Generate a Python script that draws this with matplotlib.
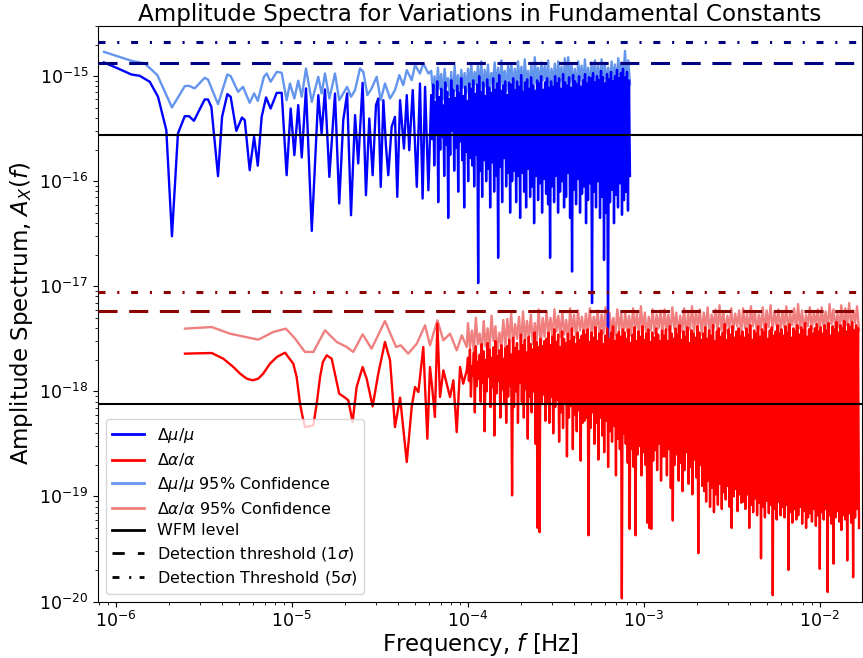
import numpy as np
import matplotlib
matplotlib.use("Agg")
import matplotlib.pyplot as plt
from matplotlib.lines import Line2D

plt.rcParams['lines.scale_dashes'] = False

# ---------------- data (log10 values) ----------------
# Delta mu / mu : low-frequency part (log10 f [Hz], log10 amplitude)
mu_logf = [-6.068, -5.989, -5.913, -5.865, -5.808, -5.761, -5.714, -5.682, -5.648, -5.609,
           -5.585, -5.557, -5.496, -5.477, -5.458, -5.420, -5.397, -5.367, -5.348, -5.316,
           -5.284, -5.268, -5.240, -5.215, -5.194, -5.172, -5.147, -5.121, -5.086, -5.058,
           -5.030, -5.007, -4.986, -4.964, -4.944, -4.920, -4.887, -4.850, -4.831, -4.812,
           -4.787, -4.755, -4.731, -4.708, -4.686, -4.664, -4.641, -4.623, -4.598, -4.579,
           -4.560, -4.541, -4.522, -4.509, -4.495, -4.480, -4.465, -4.452, -4.433, -4.414,
           -4.401, -4.385, -4.363, -4.347, -4.333, -4.313, -4.290, -4.272, -4.257, -4.243,
           -4.224]
mu_logA = [-14.870, -14.927, -14.984, -14.997, -15.054, -15.197, -15.514, -16.524, -15.546, -15.381,
           -15.381, -15.425, -15.222, -15.222, -15.292, -15.952, -15.387, -15.171, -15.197, -15.521,
           -15.394, -15.419, -15.895, -15.578, -15.852, -15.387, -15.203, -15.308, -15.159, -15.159,
           -15.943, -15.308, -15.752, -15.276, -15.774, -15.117, -16.473, -15.181, -15.546, -15.127,
           -15.959, -15.165, -16.212, -15.419, -15.165, -16.324, -15.371, -15.831, -15.064, -16.133,
           -15.403, -15.943, -15.276, -15.213, -16.054, -15.229, -15.673, -15.943, -15.483, -15.387,
           -16.149, -15.229, -15.689, -15.181, -15.705, -15.133, -16.054, -15.070, -16.165, -15.102,
           -16.086]
# Delta mu / mu : dense high-frequency part (alternating peaks and dips)
mu_dense_logf_range = (-4.208, -3.078)
mu_dense_peaks = [-15.18, -15.08, -15.25, -15.05, -15.20, -15.12, -15.28, -15.06, -15.15, -15.22,
                  -15.04, -15.13, -15.21, -15.09, -15.16, -15.02, -15.19, -15.10, -15.24, -15.07,
                  -15.12, -15.04, -15.17, -15.08, -15.00, -15.15, -15.06, -15.19, -15.03, -15.11,
                  -15.16, -15.02, -15.13, -15.07, -14.99, -15.14, -15.09, -15.05, -15.18, -15.06,
                  -15.08, -15.02, -15.13, -15.05, -15.10, -14.99, -15.15, -15.06, -15.03, -15.12,
                  -15.01, -15.09, -15.14, -15.04, -15.07, -15.00, -15.13, -15.06, -15.02, -15.11,
                  -15.05, -15.10, -15.00, -15.07, -15.02, -15.12, -14.98, -15.06, -15.09, -15.01,
                  -15.11, -14.99, -15.05, -15.08, -15.00, -15.10, -15.04, -14.98, -15.07, -15.01,
                  -15.02, -14.97, -15.06, -15.00, -15.04, -14.95, -15.01, -15.07, -14.98, -15.03,
                  -14.96, -15.05, -15.00, -14.94, -15.02, -14.97, -14.93, -15.01, -14.96, -15.04]
mu_dense_dips = [-15.60, -15.85, -15.55, -16.20, -15.70, -15.58, -15.95, -15.65, -16.35, -15.75,
                 -15.52, -15.90, -15.68, -16.10, -15.62, -15.80, -16.25, -15.72, -16.00, -15.78,
                 -15.85, -16.05, -15.75, -16.97, -15.90, -16.15, -15.80, -16.00, -15.88, -16.25,
                 -15.82, -16.10, -15.95, -16.73, -15.86, -16.20, -15.78, -16.05, -15.92, -16.30,
                 -16.00, -15.90, -16.20, -15.95, -16.35, -15.92, -16.10, -16.25, -15.88, -16.15,
                 -16.05, -16.40, -15.95, -16.18, -16.02, -16.30, -15.98, -16.12, -16.22, -16.73,
                 -16.05, -16.20, -15.95, -16.30, -16.10, -16.00, -16.25, -16.15, -15.92, -16.35,
                 -16.86, -16.08, -16.22, -15.98, -16.30, -16.12, -16.05, -16.40, -16.18, -16.02,
                 -17.16, -16.10, -16.25, -16.00, -16.35, -16.15, -16.75, -16.30, -17.59, -16.20,
                 -16.08, -16.40, -16.13, -16.25, -16.02, -16.32, -16.18, -16.10, -16.28, -15.95]

# Delta mu / mu 95% confidence
muc_logf = [-6.068, -5.913, -5.837, -5.765, -5.682, -5.609, -5.585, -5.553, -5.496, -5.477,
            -5.420, -5.367, -5.348, -5.306, -5.278, -5.240, -5.215, -5.194, -5.159, -5.143,
            -5.121, -5.086, -5.058, -5.030, -5.011, -4.986, -4.964, -4.944, -4.920, -4.887,
            -4.850, -4.831, -4.812, -4.787, -4.755, -4.731, -4.686, -4.664, -4.641, -4.613,
            -4.594, -4.571, -4.547, -4.518, -4.495, -4.471, -4.442, -4.414, -4.389, -4.367,
            -4.347, -4.319, -4.300, -4.272, -4.253, -4.224]
muc_logA = [-14.769, -14.854, -14.879, -14.990, -15.298, -15.095, -15.092, -15.117, -15.016, -15.032,
            -15.267, -14.984, -15.000, -15.149, -15.102, -15.254, -15.165, -15.235, -15.006, -14.975,
            -15.054, -14.959, -14.968, -15.229, -15.070, -15.213, -15.044, -15.197, -14.927, -15.245,
            -15.006, -15.165, -14.975, -15.213, -14.975, -15.229, -15.102, -15.197, -15.133, -14.927,
            -14.959, -15.181, -15.117, -15.006, -15.229, -15.070, -15.213, -15.133, -14.990, -15.086,
            -14.943, -15.038, -14.895, -14.975, -14.879, -14.975]
muc_dense_peaks = [-14.95, -15.00, -14.92, -14.98, -14.93, -15.02, -14.96, -14.90, -14.99, -14.94, -14.97,
                   -14.93, -14.88, -14.96, -14.90, -14.86, -14.94, -14.89, -14.97, -14.87, -14.92,
                   -14.85, -14.95, -14.90, -14.88, -14.93, -14.86, -14.91, -14.84, -14.95, -14.89,
                   -14.82, -14.92, -14.87, -14.90, -14.85, -14.93, -14.88, -14.86, -14.91, -14.83,
                   -14.82, -14.89, -14.93, -14.86, -14.90, -14.84, -14.92, -14.87, -14.85, -14.90,
                   -14.84, -14.88, -14.92, -14.86, -14.89, -14.83, -14.87, -14.76, -14.85]
muc_dense_dips = [-15.15, -15.20, -15.12, -15.22, -15.10, -15.18, -15.25, -15.14, -15.19, -15.11, -15.16,
                  -15.12, -15.18, -15.08, -15.15, -15.20, -15.10, -15.16, -15.07, -15.13, -15.19,
                  -15.09, -15.14, -15.05, -15.17, -15.11, -15.08, -15.15, -15.06, -15.12, -15.18,
                  -15.07, -15.13, -15.04, -15.10, -15.16, -15.08, -15.12, -15.05, -15.14, -15.09,
                  -15.06, -15.11, -15.15, -15.04, -15.10, -15.07, -15.13, -15.05, -15.09, -15.12,
                  -15.03, -15.08, -15.11, -15.05, -15.09, -15.02, -15.06, -15.04, -15.08]

# Delta alpha / alpha : low-frequency part
al_logf = [-5.608, -5.456, -5.390, -5.333, -5.295, -5.257, -5.223, -5.191, -5.163, -5.125,
           -5.086, -5.039, -4.992, -4.973, -4.954, -4.939, -4.926, -4.878, -4.859, -4.840,
           -4.824, -4.802, -4.774, -4.731, -4.698, -4.679, -4.655, -4.632, -4.598, -4.575,
           -4.541, -4.509, -4.471, -4.442, -4.414, -4.385, -4.347, -4.319, -4.300, -4.281,
           -4.253, -4.230, -4.215, -4.200, -4.187, -4.173, -4.158, -4.139, -4.120, -4.101,
           -4.082, -4.063, -4.044, -4.026, -4.006]
al_logA = [-17.641, -17.635, -17.689, -17.768, -17.831, -17.879, -17.895, -17.879, -17.831, -17.737,
           -17.673, -17.632, -17.737, -17.864, -18.117, -18.245, -18.340, -18.324, -18.117, -17.864,
           -17.721, -17.657, -17.689, -18.022, -18.060, -18.086, -18.292, -17.959, -17.768, -17.879,
           -18.143, -17.831, -17.530, -17.705, -18.340, -18.060, -18.673, -18.149, -17.959, -18.006,
           -17.578, -18.451, -17.768, -18.006, -18.244, -17.355, -18.054, -17.800, -17.927, -18.054,
           -17.895, -18.388, -17.768, -17.927, -17.800]
al_dense_logf_range = (-3.999, -1.776)
al_dense_peaks = [-17.68, -17.60, -17.76, -17.63, -17.57, -17.72, -17.65, -17.55, -17.62, -17.70,
                  -17.54, -17.60, -17.68, -17.58, -17.52, -17.66, -17.61, -17.56, -17.69, -17.59,
                  -17.57, -17.51, -17.65, -17.49, -17.59, -17.54, -17.62, -17.46, -17.56, -17.51,
                  -17.63, -17.48, -17.55, -17.60, -17.44, -17.53, -17.58, -17.50, -17.57, -17.52,
                  -17.50, -17.44, -17.56, -17.48, -17.41, -17.53, -17.46, -17.58, -17.43, -17.50,
                  -17.54, -17.45, -17.52, -17.40, -17.48, -17.55, -17.44, -17.51, -17.47, -17.42,
                  -17.46, -17.41, -17.53, -17.44, -17.49, -17.39, -17.52, -17.45, -17.42, -17.55,
                  -17.47, -17.40, -17.50, -17.44, -17.38, -17.52, -17.46, -17.43, -17.48, -17.41,
                  -17.44, -17.50, -17.41, -17.54, -17.46, -17.39, -17.52, -17.43, -17.48, -17.38,
                  -17.51, -17.45, -17.41, -17.53, -17.44, -17.49, -17.40, -17.46, -17.52, -17.42,
                  -17.47, -17.41, -17.52, -17.38, -17.45, -17.50, -17.40, -17.46, -17.37, -17.51,
                  -17.43, -17.48, -17.39, -17.54, -17.42, -17.45, -17.49, -17.38, -17.44, -17.51,
                  -17.45, -17.39, -17.50, -17.42, -17.47, -17.37, -17.52, -17.43, -17.40, -17.48,
                  -17.44, -17.36, -17.51, -17.41, -17.46, -17.38, -17.49, -17.43, -17.40, -17.47,
                  -17.43, -17.49, -17.40, -17.46, -17.37, -17.51, -17.42, -17.45, -17.38, -17.48,
                  -17.41, -17.44, -17.36, -17.50, -17.42, -17.39, -17.47, -17.43, -17.37, -17.45,
                  -17.41, -17.47, -17.38, -17.44, -17.36, -17.49, -17.40, -17.43, -17.37, -17.46,
                  -17.39, -17.42, -17.35, -17.48, -17.41, -17.38, -17.45, -17.40, -17.36, -17.43,
                  -17.39, -17.45, -17.37, -17.42, -17.35, -17.47, -17.38, -17.41, -17.34, -17.44,
                  -17.37, -17.40, -17.33, -17.43, -17.36, -17.39, -17.34, -17.42, -17.37, -17.40]
al_dense_dips = [-17.90, -18.05, -17.85, -18.20, -17.95, -17.88, -18.10, -17.92, -18.38, -18.00,
                 -17.86, -18.15, -17.96, -18.42, -18.02, -17.90, -18.25, -17.98, -18.12, -18.30,
                 -18.05, -17.95, -18.99, -18.15, -18.00, -18.30, -17.92, -18.10, -18.25, -17.98,
                 -18.45, -18.05, -18.20, -18.00, -18.50, -19.30, -19.34, -18.12, -18.03, -18.28,
                 -18.10, -18.30, -18.05, -18.40, -18.15, -18.08, -18.48, -18.20, -18.35, -18.10,
                 -18.62, -18.25, -18.14, -18.55, -18.22, -18.38, -18.18, -18.66, -18.30, -18.28,
                 -18.25, -19.37, -18.35, -18.20, -18.50, -18.30, -18.65, -18.25, -18.42, -18.58,
                 -18.28, -18.72, -18.38, -18.48, -18.33, -18.80, -18.45, -18.55, -19.97, -18.40,
                 -18.50, -18.68, -19.31, -18.55, -18.72, -19.37, -18.60, -18.52, -18.80, -18.58,
                 -18.70, -19.25, -19.30, -19.31, -18.66, -18.56, -18.75, -18.50, -18.85, -18.62,
                 -18.62, -18.80, -18.55, -18.92, -19.23, -18.70, -18.60, -18.85, -18.68, -18.95,
                 -18.75, -18.58, -18.88, -18.72, -18.98, -18.65, -18.82, -19.54, -18.70, -18.90,
                 -18.95, -19.05, -18.85, -19.10, -18.92, -19.15, -18.98, -19.08, -18.88, -19.12,
                 -18.96, -19.03, -18.90, -19.10, -19.30, -19.00, -18.93, -19.14, -18.98, -19.06,
                 -19.05, -19.12, -18.98, -19.30, -19.08, -19.15, -19.02, -19.18, -19.06, -19.59,
                 -19.10, -19.20, -19.04, -19.16, -19.08, -19.94, -19.12, -19.22, -19.05, -19.18,
                 -19.10, -19.20, -19.08, -19.70, -19.15, -19.25, -19.12, -19.22, -19.18, -19.10,
                 -19.26, -19.14, -19.30, -19.20, -19.16, -19.24, -19.12, -19.28, -19.18, -19.69,
                 -19.15, -19.22, -19.12, -19.91, -19.18, -19.26, -19.64, -19.20, -19.14, -19.24,
                 -19.32, -19.18, -19.22, -19.61, -19.16, -19.25, -19.77, -19.20, -19.12, -19.30]

# Delta alpha / alpha 95% confidence
alc_logf = [-5.608, -5.456, -5.352, -5.191, -5.106, -5.034, -4.982, -4.926, -4.878, -4.812,
            -4.745, -4.688, -4.651, -4.598, -4.547, -4.471, -4.408, -4.381, -4.339, -4.290,
            -4.243, -4.215, -4.173, -4.139, -4.101, -4.063, -4.034, -4.006]
alc_logA = [-17.403, -17.388, -17.451, -17.508, -17.435, -17.403, -17.498, -17.625, -17.625, -17.419,
            -17.530, -17.578, -17.625, -17.457, -17.594, -17.330, -17.578, -17.562, -17.641, -17.546,
            -17.371, -17.562, -17.324, -17.514, -17.451, -17.610, -17.467, -17.578]
alc_dense_peaks = [-17.35, -17.42, -17.30, -17.45, -17.33, -17.40, -17.28, -17.38, -17.44, -17.32,
                   -17.31, -17.26, -17.36, -17.29, -17.24, -17.33, -17.27, -17.35, -17.22, -17.30,
                   -17.25, -17.30, -17.22, -17.28, -17.24, -17.32, -17.21, -17.27, -17.23, -17.29,
                   -17.26, -17.21, -17.29, -17.23, -17.27, -17.20, -17.25, -17.30, -17.22, -17.26,
                   -17.24, -17.28, -17.21, -17.26, -17.19, -17.25, -17.29, -17.22, -17.27, -17.23,
                   -17.22, -17.27, -17.20, -17.25, -17.28, -17.21, -17.26, -17.19, -17.24, -17.22,
                   -17.25, -17.20, -17.27, -17.22, -17.18, -17.24, -17.28, -17.21, -17.26, -17.23,
                   -17.21, -17.26, -17.19, -17.24, -17.27, -17.20, -17.23, -17.18, -17.25, -17.22,
                   -17.24, -17.19, -17.26, -17.21, -17.17, -17.23, -17.27, -17.20, -17.25, -17.22,
                   -17.20, -17.24, -17.17, -17.22, -17.26, -17.18, -17.21, -17.16, -17.23, -17.19]
alc_dense_dips = [-17.58, -17.62, -17.55, -17.65, -17.57, -17.60, -17.52, -17.63, -17.56, -17.59,
                  -17.52, -17.56, -17.50, -17.58, -17.53, -17.49, -17.55, -17.51, -17.57, -17.48,
                  -17.45, -17.50, -17.43, -17.48, -17.46, -17.52, -17.44, -17.49, -17.42, -17.47,
                  -17.44, -17.48, -17.42, -17.47, -17.45, -17.50, -17.43, -17.46, -17.41, -17.49,
                  -17.43, -17.47, -17.41, -17.46, -17.44, -17.48, -17.42, -17.45, -17.40, -17.47,
                  -17.42, -17.46, -17.40, -17.45, -17.43, -17.47, -17.41, -17.44, -17.39, -17.46,
                  -17.41, -17.45, -17.39, -17.44, -17.42, -17.46, -17.40, -17.43, -17.38, -17.45,
                  -17.40, -17.44, -17.38, -17.43, -17.41, -17.45, -17.39, -17.42, -17.37, -17.44,
                  -17.39, -17.43, -17.37, -17.42, -17.40, -17.44, -17.38, -17.41, -17.36, -17.43,
                  -17.38, -17.42, -17.36, -17.41, -17.39, -17.43, -17.37, -17.40, -17.35, -17.42]

# horizontal reference levels
wfm_mu = 2.74e-16
wfm_alpha = 7.5e-19
thr1_mu, thr5_mu = 1.32e-15, 2.1e-15
thr1_alpha, thr5_alpha = 5.8e-18, 8.8e-18

# axis ticks
x_ticks = [1e-6, 1e-5, 1e-4, 1e-3, 1e-2]
y_ticks = [1e-20, 1e-19, 1e-18, 1e-17, 1e-16, 1e-15]

legend_labels = [r"$\Delta\mu/\mu$", r"$\Delta\alpha/\alpha$",
                 r"$\Delta\mu/\mu$ 95% Confidence", r"$\Delta\alpha/\alpha$ 95% Confidence",
                 "WFM level", r"Detection threshold (1$\sigma$)", r"Detection Threshold (5$\sigma$)"]


def build(logf, logA, frange, peaks, dips):
    dense_vals = np.column_stack([peaks, dips]).ravel()
    dense_f = np.logspace(frange[0], frange[1], len(dense_vals))
    f = np.concatenate([10.0 ** np.array(logf), dense_f])
    a = np.concatenate([10.0 ** np.array(logA), 10.0 ** dense_vals])
    return f, a


mu_f, mu_a = build(mu_logf, mu_logA, mu_dense_logf_range, mu_dense_peaks, mu_dense_dips)
muc_f, muc_a = build(muc_logf, muc_logA, mu_dense_logf_range, muc_dense_peaks, muc_dense_dips)
al_f, al_a = build(al_logf, al_logA, al_dense_logf_range, al_dense_peaks, al_dense_dips)
alc_f, alc_a = build(alc_logf, alc_logA, al_dense_logf_range, alc_dense_peaks, alc_dense_dips)

# ---------------- figure ----------------
fig = plt.figure(figsize=(8.63, 6.58), dpi=100)
ax = fig.add_axes([98 / 863, 1 - 601.5 / 658, 764 / 863, 575.5 / 658])

lw = 1.7
ax.plot(muc_f, muc_a, color='cornflowerblue', lw=lw, zorder=2)
ax.plot(alc_f, alc_a, color='lightcoral', lw=lw, zorder=2)
ax.plot(mu_f, mu_a, color='blue', lw=lw, zorder=3)
ax.plot(al_f, al_a, color='red', lw=lw, zorder=3)

ax.axhline(wfm_mu, color='black', lw=1.5, zorder=4)
ax.axhline(wfm_alpha, color='black', lw=1.5, zorder=4)
dash1 = (13.7, 8.4)
dash5 = (5.0, 8.5, 1.5, 8.5)
ax.axhline(thr1_mu, color='navy', lw=2.2, dashes=dash1, zorder=4)
ax.axhline(thr5_mu, color='navy', lw=2.2, dashes=dash5, zorder=4)
ax.axhline(thr1_alpha, color='darkred', lw=2.2, dashes=dash1, zorder=4)
ax.axhline(thr5_alpha, color='darkred', lw=2.2, dashes=dash5, zorder=4)

ax.set_xscale('log')
ax.set_yscale('log')
ax.set_xticks(x_ticks)
ax.set_yticks(y_ticks)
ax.set_xlim(7.9e-7, 1.742e-2)
ax.set_ylim(1e-20, 3.0e-15)

ax.set_title("Amplitude Spectra for Variations in Fundamental Constants", fontsize=16.6, pad=3)
ax.set_xlabel(r"Frequency, $f$ [Hz]", fontsize=16.5, labelpad=0)
ax.set_ylabel(r"Amplitude Spectrum, $A_X(f)$", fontsize=16.5, labelpad=3)
ax.tick_params(axis='both', which='major', labelsize=12.5)

handles = [Line2D([], [], color='blue', lw=2),
           Line2D([], [], color='red', lw=2),
           Line2D([], [], color='cornflowerblue', lw=2),
           Line2D([], [], color='lightcoral', lw=2),
           Line2D([], [], color='black', lw=2),
           Line2D([], [], color='black', lw=2, dashes=(8.8, 9.5)),
           Line2D([], [], color='black', lw=2, dashes=(5.0, 7.0, 1.5, 6.0))]
ax.legend(handles, legend_labels, loc='lower left', fontsize=11.5, labelspacing=0.4)

fig.savefig("out.png", dpi=100)
